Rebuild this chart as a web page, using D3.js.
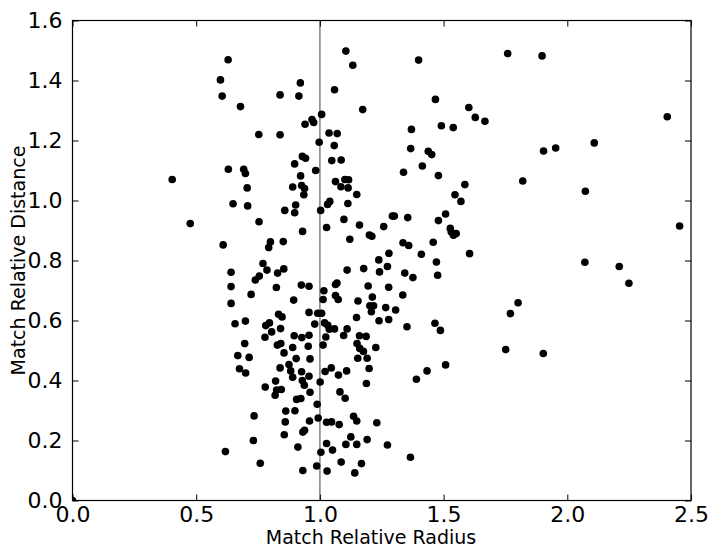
<!DOCTYPE html>
<html>
<head>
<meta charset="utf-8">
<script src="https://cdn.jsdelivr.net/npm/d3@7"></script>
<style>
  body { margin: 0; background: #fff; }
  svg { display: block; }
</style>
</head>
<body>
<script>
// match radius / match distance
const radius = [
  0.629, 0.598, 0.605, 0.679, 0.839, 0.753, 0.839, 0.630, 0.692, 0.699,
  0.403, 0.706, 1.105, 1.133, 0.921, 0.915, 1.059, 1.173, 1.007, 0.968,
  0.975, 0.940, 1.037, 1.070, 0.997, 1.058, 0.929, 0.942, 0.898, 1.048,
  1.086, 0.983, 0.922, 1.063, 1.101, 1.116, 0.890, 0.926, 0.938, 1.085,
  1.114, 0.649, 0.708, 0.476, 0.754, 0.609, 0.800, 0.793, 0.770, 0.786,
  0.829, 0.854, 0.641, 0.755, 0.739, 0.641, 0.824, 0.722, 0.641, 0.833,
  0.657, 0.699, 0.796, 0.781, 0.805, 0.778, 0.841, 0.935, 1.149, 0.902,
  0.898, 0.858, 1.040, 1.031, 1.003, 1.113, 1.097, 1.027, 0.930, 1.160,
  1.200, 1.210, 1.258, 1.293, 1.301, 1.121, 0.852, 1.279, 1.238, 1.273,
  1.241, 1.110, 1.177, 0.925, 0.956, 1.069, 1.063, 1.016, 1.195, 1.278,
  0.894, 1.013, 1.063, 1.074, 1.154, 1.212, 1.202, 1.217, 1.208, 1.266,
  1.306, 0.847, 0.956, 0.991, 1.007, 1.148, 0.979, 1.019, 1.032, 1.038,
  1.059, 1.110, 1.096, 1.239, 1.278, 0.896, 0.927, 0.956, 1.024, 1.160,
  1.187, 0.696, 0.828, 0.842, 0.668, 0.714, 0.675, 0.700, 0.839, 0.779,
  0.821, 0.825, 0.819, 0.734, 0.731, 0.618, 0.759, 1.013, 1.150, 1.161,
  1.176, 1.226, 0.855, 0.890, 0.953, 0.904, 0.960, 0.875, 0.882, 0.890,
  0.926, 0.956, 1.021, 1.046, 1.075, 1.108, 1.153, 1.191, 1.199, 0.929,
  0.937, 0.960, 1.001, 1.188, 0.844, 1.081, 1.102, 0.906, 0.923, 0.989,
  0.862, 0.899, 0.993, 0.958, 1.027, 1.047, 1.078, 1.136, 1.149, 1.230,
  0.860, 0.938, 0.931, 0.856, 1.125, 1.191, 1.027, 1.105, 1.149, 1.273,
  0.911, 1.051, 1.004, 1.086, 1.168, 0.987, 1.029, 0.931, 1.141, 1.399,
  1.759, 1.898, 1.467, 1.602, 1.628, 1.667, 1.370, 1.491, 1.539, 1.367,
  1.438, 1.452, 1.414, 1.338, 1.479, 1.586, 1.546, 1.570, 1.820, 1.355,
  1.508, 1.479, 1.527, 1.531, 1.540, 1.551, 1.336, 1.359, 1.458, 1.410,
  1.605, 1.471, 1.343, 1.376, 1.476, 1.335, 1.801, 1.770, 1.352, 1.465,
  1.487, 1.751, 1.508, 1.433, 1.390, 1.366, 2.404, 1.904, 1.953, 2.109,
  2.073, 2.454, 2.071, 2.210, 2.249, 1.903, 0.000
];
const distance = [
  1.469, 1.402, 1.348, 1.313, 1.352, 1.220, 1.219, 1.104, 1.104, 1.090,
  1.070, 1.042, 1.498, 1.451, 1.392, 1.348, 1.369, 1.303, 1.287, 1.270,
  1.260, 1.254, 1.225, 1.223, 1.194, 1.183, 1.147, 1.141, 1.122, 1.133,
  1.135, 1.100, 1.082, 1.063, 1.070, 1.069, 1.045, 1.050, 1.040, 1.046,
  1.042, 0.989, 0.982, 0.923, 0.929, 0.852, 0.862, 0.843, 0.790, 0.768,
  0.758, 0.772, 0.761, 0.748, 0.735, 0.713, 0.710, 0.687, 0.657, 0.621,
  0.589, 0.598, 0.592, 0.583, 0.562, 0.544, 0.573, 1.019, 1.020, 0.985,
  0.959, 0.967, 0.997, 0.987, 0.967, 0.990, 0.937, 0.910, 0.897, 0.918,
  0.885, 0.881, 0.913, 0.948, 0.948, 0.871, 0.863, 0.824, 0.802, 0.780,
  0.762, 0.768, 0.773, 0.718, 0.714, 0.725, 0.720, 0.699, 0.715, 0.711,
  0.668, 0.670, 0.683, 0.670, 0.665, 0.678, 0.649, 0.649, 0.629, 0.643,
  0.635, 0.612, 0.627, 0.624, 0.624, 0.610, 0.588, 0.592, 0.584, 0.571,
  0.572, 0.572, 0.550, 0.599, 0.603, 0.549, 0.543, 0.551, 0.545, 0.549,
  0.547, 0.523, 0.518, 0.523, 0.483, 0.477, 0.439, 0.425, 0.442, 0.378,
  0.398, 0.368, 0.351, 0.282, 0.200, 0.163, 0.124, 0.518, 0.523, 0.507,
  0.497, 0.510, 0.492, 0.510, 0.514, 0.473, 0.472, 0.453, 0.432, 0.411,
  0.429, 0.414, 0.430, 0.442, 0.418, 0.432, 0.474, 0.474, 0.440, 0.400,
  0.384, 0.361, 0.395, 0.390, 0.370, 0.362, 0.341, 0.337, 0.340, 0.321,
  0.298, 0.299, 0.275, 0.265, 0.261, 0.262, 0.253, 0.281, 0.265, 0.259,
  0.262, 0.234, 0.228, 0.219, 0.212, 0.203, 0.190, 0.187, 0.187, 0.185,
  0.178, 0.168, 0.161, 0.128, 0.123, 0.115, 0.098, 0.100, 0.092, 1.468,
  1.490, 1.482, 1.337, 1.310, 1.277, 1.264, 1.237, 1.249, 1.243, 1.173,
  1.164, 1.153, 1.115, 1.094, 1.083, 1.053, 1.019, 0.997, 1.065, 0.943,
  0.955, 0.933, 0.907, 0.895, 0.884, 0.890, 0.859, 0.850, 0.861, 0.821,
  0.823, 0.795, 0.758, 0.743, 0.751, 0.685, 0.659, 0.623, 0.579, 0.591,
  0.567, 0.503, 0.452, 0.432, 0.404, 0.144, 1.279, 1.165, 1.175, 1.192,
  1.031, 0.915, 0.794, 0.780, 0.724, 0.490, 0.000
];
const xTicks = [0.0, 0.5, 1.0, 1.5, 2.0, 2.5];
const yTicks = [0.0, 0.2, 0.4, 0.6, 0.8, 1.0, 1.2, 1.4, 1.6];
const refLine = 1.0;

const font = '"DejaVu Sans", sans-serif';
const width = 717, height = 556;
const margin = {top: 20.5, right: 26, bottom: 55.5, left: 72.5};
const innerW = width - margin.left - margin.right,
    innerH = height - margin.top - margin.bottom;

const svg = d3.select('body')
    .append('svg')
    .attr('width', width)
    .attr('height', height);

const x = d3.scaleLinear().domain([0, 2.5]).range([0, innerW]);
const y = d3.scaleLinear().domain([0, 1.6]).range([innerH, 0]);

const g = svg.append('g')
    .attr('transform', 'translate(' + margin.left + ',' + margin.top + ')');

g.append('clipPath')
    .attr('id', 'plotClip')
    .append('rect')
    .attr('width', innerW)
    .attr('height', innerH);

// reference line at radius 1
g.append('line')
    .attr('x1', x(refLine)).attr('x2', x(refLine))
    .attr('y1', 0).attr('y2', innerH)
    .attr('stroke', '#808080')
    .attr('stroke-width', 1.5);

const pts = radius.map(function(r, i){ return {r: r, d: distance[i]}; });

g.append('g')
    .attr('clip-path', 'url(#plotClip)')
    .selectAll('circle')
    .data(pts)
    .enter()
    .append('circle')
    .attr('cx', function(d){ return x(d.r); })
    .attr('cy', function(d){ return y(d.d); })
    .attr('r', 3.8)
    .attr('fill', '#000');

// axes, ticks pointing inward on all four sides
const fmt = d3.format('.1f');

g.append('g')
    .attr('transform', 'translate(0,' + innerH + ')')
    .call(d3.axisBottom(x).tickValues(xTicks).tickFormat(fmt).tickSizeInner(-6).tickSizeOuter(0).tickPadding(6));

g.append('g')
    .call(d3.axisLeft(y).tickValues(yTicks).tickFormat(fmt).tickSizeInner(-6).tickSizeOuter(0).tickPadding(10));

g.append('g')
    .call(d3.axisTop(x).tickValues(xTicks).tickFormat('').tickSizeInner(-6).tickSizeOuter(0));

g.append('g')
    .attr('transform', 'translate(' + innerW + ',0)')
    .call(d3.axisRight(y).tickValues(yTicks).tickFormat('').tickSizeInner(-6).tickSizeOuter(0));

g.selectAll('.domain').remove();
g.selectAll('.tick line').attr('stroke', '#000');
g.selectAll('.tick text')
    .attr('fill', '#000')
    .style('font-family', font)
    .style('font-size', '22px');

g.append('rect')
    .attr('width', innerW)
    .attr('height', innerH)
    .attr('fill', 'none')
    .attr('stroke', '#000')
    .attr('stroke-width', 1.2);

svg.append('text')
    .attr('x', 371)
    .attr('y', 544)
    .attr('text-anchor', 'middle')
    .style('font-family', font)
    .style('font-size', '19px')
    .text('Match Relative Radius');

svg.append('text')
    .attr('transform', 'translate(25,' + (margin.top + innerH / 2) + ') rotate(-90)')
    .attr('text-anchor', 'middle')
    .style('font-family', font)
    .style('font-size', '19px')
    .text('Match Relative Distance');
</script>
</body>
</html>
